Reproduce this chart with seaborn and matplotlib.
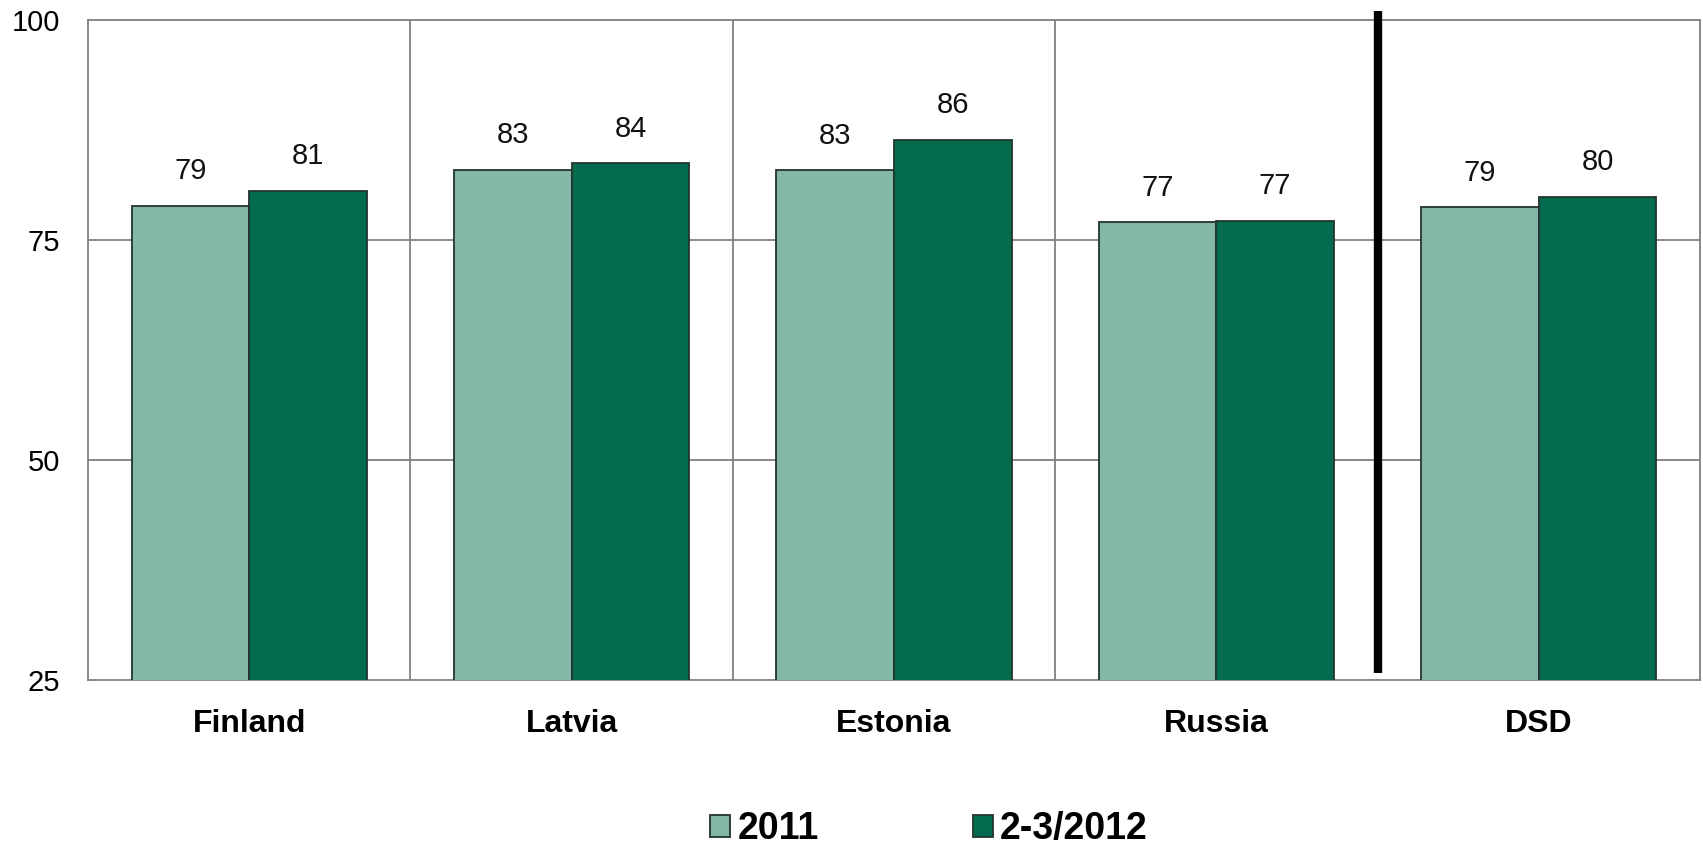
import matplotlib
matplotlib.use("Agg")
import matplotlib.pyplot as plt
import seaborn as sns
import pandas as pd

# Survey results by country, two waves
countries = ["Finland", "Latvia", "Estonia", "Russia", "DSD"]
waves = ["2011", "2-3/2012"]
values_2011 = [78.9, 83.0, 82.9, 77.0, 78.7]
values_2012 = [80.6, 83.7, 86.4, 77.2, 79.9]
y_ticks = [25, 50, 75, 100]

colors = {"2011": "#84B7A8", "2-3/2012": "#046B4E"}

df = pd.DataFrame({
    "country": countries * 2,
    "wave": [waves[0]] * len(countries) + [waves[1]] * len(countries),
    "value": values_2011 + values_2012,
})

sns.set_style("white")
plt.rcParams["font.family"] = ["Liberation Sans", "DejaVu Sans"]
plt.rcParams["text.color"] = "black"
plt.rcParams["xtick.color"] = "black"
plt.rcParams["ytick.color"] = "black"

W, H, DPI = 1703, 847, 100
fig = plt.figure(figsize=(W / DPI, H / DPI), dpi=DPI)
ax = fig.add_axes([88 / W, 1 - 680 / H, (1700 - 88) / W, 660 / H])

grid_color = "#808080"

sns.barplot(data=df, x="country", y="value", hue="wave", order=countries,
            hue_order=waves, palette=colors, saturation=1, width=0.73, gap=0,
            edgecolor="#22352D", linewidth=1.3, ax=ax, zorder=3)

ax.set_xlim(-0.5, len(countries) - 0.5)
ax.set_ylim(25, 100)
ax.set_yticks(y_ticks)
ax.set_xlabel("")
ax.set_ylabel("")

# horizontal and vertical separators
for y in y_ticks[1:-1]:
    ax.axhline(y, color=grid_color, lw=1.3, zorder=1)
for x in [0.5, 1.5, 2.5]:
    ax.axvline(x, color=grid_color, lw=1.3, zorder=1)
# heavy divider before the aggregate column
ax.axvline(3.5, ymin=0.0106, ymax=1.0136, color="black", lw=6, zorder=4,
           clip_on=False, solid_capstyle="butt")

for side in ["left", "top", "bottom", "right"]:
    ax.spines[side].set_color(grid_color)
    ax.spines[side].set_linewidth(1.3)

ax.tick_params(axis="both", length=0)
ax.tick_params(axis="y", labelsize=21, pad=20)
ax.tick_params(axis="x", labelsize=23, pad=21)
for lbl in ax.get_xticklabels():
    lbl.set_fontweight("bold")

for cont in ax.containers:
    ax.bar_label(cont, fmt="{:.0f}", padding=15, fontsize=21, color="#111111")

handles, labels = ax.get_legend_handles_labels()
ax.get_legend().remove()
fig.legend(handles, labels, loc="center", bbox_to_anchor=(929 / W, 0.021),
           ncol=2, frameon=False, prop={"size": 27, "weight": "bold"},
           handlelength=0.53, handleheight=0.53, handletextpad=0.2,
           columnspacing=4.1, borderpad=0.1)

fig.savefig("out.png", dpi=DPI)
